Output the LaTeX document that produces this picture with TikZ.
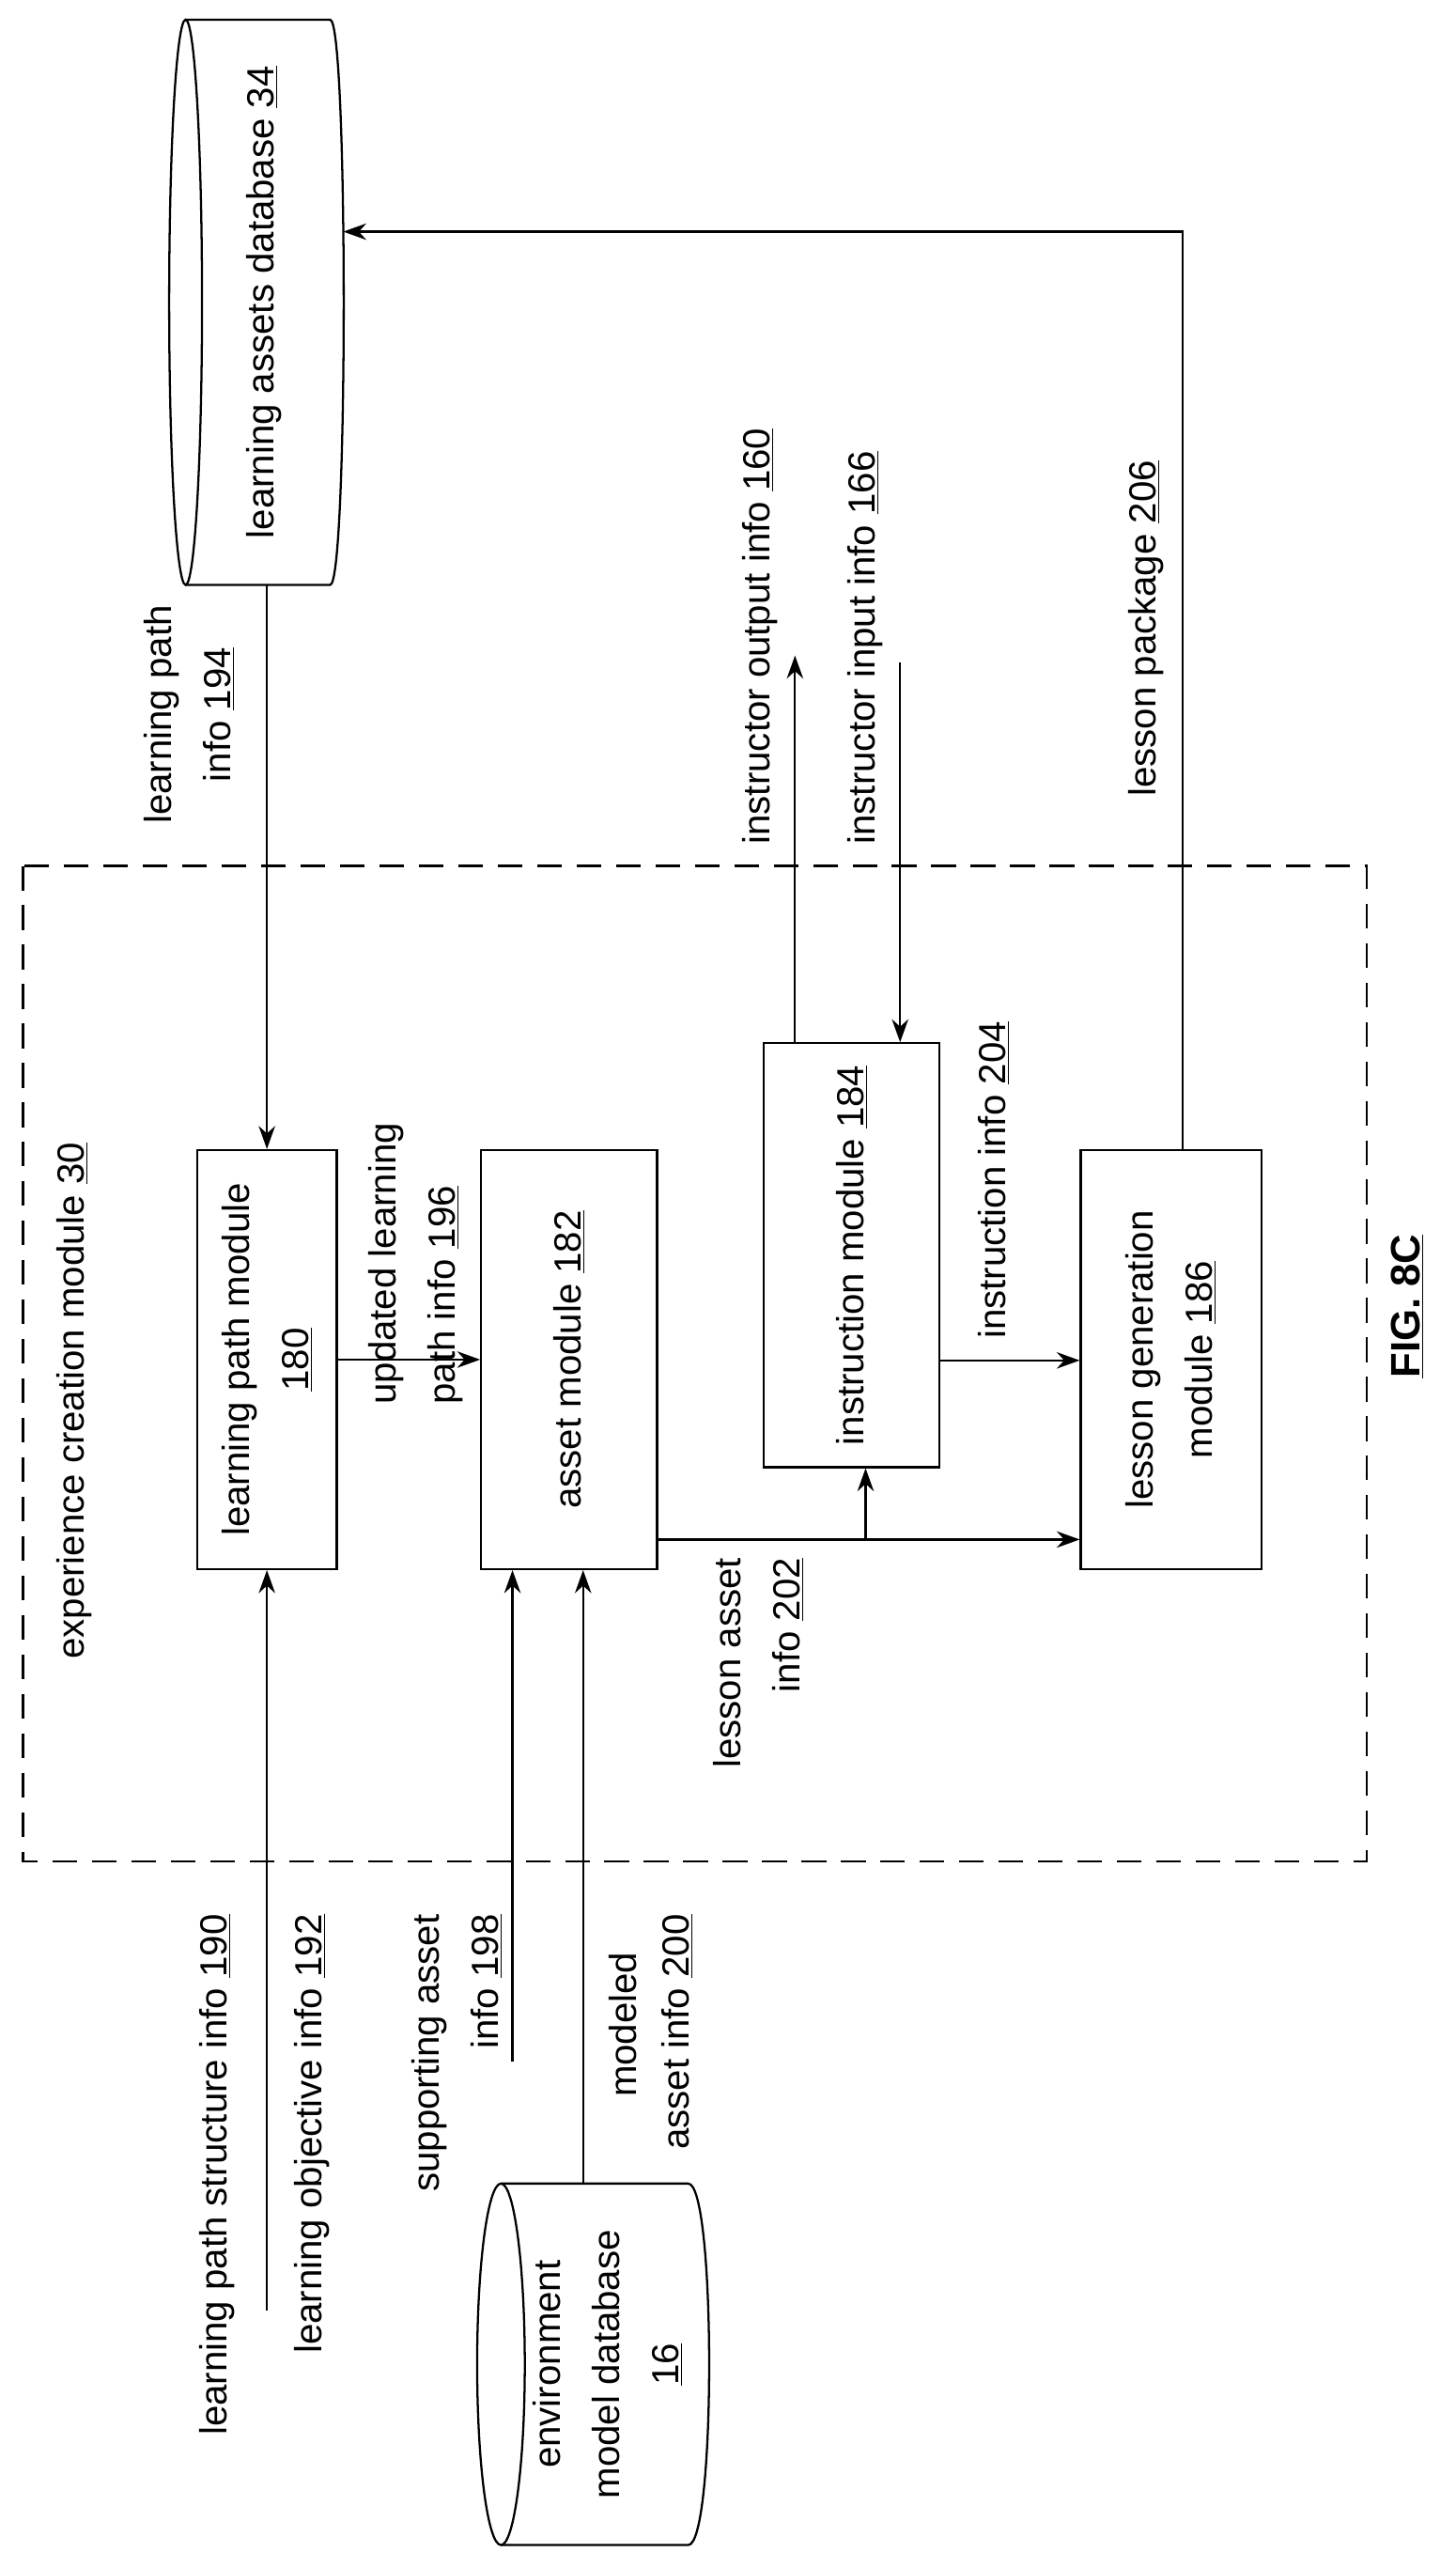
\documentclass[tikz,border=0pt]{standalone}
\usepackage{fontspec}
\setmainfont{Liberation Sans}
\usetikzlibrary{arrows.meta}
\begin{document}
\begin{tikzpicture}[x=1pt,y=-1pt,
  every node/.style={font=\fontsize{23}{36}\selectfont, inner sep=0pt},
  ln/.style={line width=1.3pt},
  arr/.style={ln,-{Stealth[length=14pt,width=10pt]}},
  box/.style={draw,ln,rotate=90,align=center,minimum width=255pt},
  lbl/.style={rotate=90}]
\useasboundingbox (0,0) rectangle (886,1563);
% dashed module
\draw[ln,dash pattern=on 15pt off 9pt] (14,527) rectangle (832,1133);
\node[lbl,anchor=west] (ecm) at (45,1010) {experience creation module \underline{30}};
% boxes
\node[box,minimum height=85pt] (lpm) at (162.5,827.5) {learning path module\\\underline{180}};
\node[box,minimum height=107pt] (asset) at (346.5,827.5) {asset module \underline{182}};
\node[box,minimum width=258pt,minimum height=107pt] (ins) at (518.5,764) {instruction module \underline{184}};
\node[box,minimum height=110pt] (lg) at (713,827.5) {lesson generation\\module \underline{186}};
% learning assets database cylinder
\draw[ln] (113,184) ellipse [x radius=10, y radius=172];
\draw[ln] (113,12) -- (201,12) .. controls (212,12) and (212,356) .. (201,356) -- (113,356);
\node[lbl] (ladb) at (161,184) {learning assets database \underline{34}};
\coordinate (ladbB) at (162.5,356);
\coordinate (ladbR) at (209,141);
% environment model database cylinder
\draw[ln] (305,1439) ellipse [x radius=14.5, y radius=110];
\draw[ln] (305,1329) -- (419,1329) .. controls (436,1329) and (436,1549) .. (419,1549) -- (305,1549);
\node[lbl,align=center] (emdb) at (370,1439) {environment\\model database\\\underline{16}};
\coordinate (emdbT) at (355,1329);
% connectors
\draw[arr] (ladbB) -- (lpm.east);
\node[lbl,align=center] (l194) at (115,435) {learning path\\info \underline{194}};
\coordinate (s190) at (162.5,1406);
\draw[arr] (s190) -- (lpm.west);
\node[lbl,anchor=east] (l190) at (132,1165) {learning path structure info \underline{190}};
\node[lbl,anchor=east] (l192) at (190,1165) {learning objective info \underline{192}};
\coordinate (s198) at (312,1255);
\draw[arr] (s198) -- (s198 |- asset.west);
\node[lbl,anchor=east,align=right] (l198) at (278,1165) {supporting asset\\info \underline{198}};
\draw[arr] (emdbT) -- (emdbT |- asset.west);
\node[lbl,anchor=east] (l200a) at (379,1188) {modeled};
\node[lbl,anchor=east] (l200b) at (412,1165) {asset info \underline{200}};
\draw[arr] (lpm.south) -- (asset.north);
\node[lbl,anchor=west,align=left] (l196) at (253,855) {updated learning\\path info \underline{196}};
\coordinate (la) at (400,937);
\coordinate (br) at (527,937);
\draw[arr] (la) -- (la -| lg.north);
\draw[arr] (br) -- (br |- ins.west);
\node[lbl,anchor=east,align=right] (l202) at (462,948) {lesson asset\\info \underline{202}};
\coordinate (ii) at (572,828);
\draw[arr] (ii) -- (ii -| lg.north);
\node[lbl,anchor=west] (l204) at (605,815) {instruction info \underline{204}};
\coordinate (io) at (484,399);
\draw[arr] (io |- ins.east) -- (io);
\node[lbl,anchor=west] (l160) at (463,514) {instructor output info \underline{160}};
\coordinate (iin) at (548,403);
\draw[arr] (iin) -- (iin |- ins.east);
\node[lbl,anchor=west] (l166) at (527,514) {instructor input info \underline{166}};
\coordinate (lp) at (720,141);
\draw[arr] (lp |- lg.east) -- (lp) -- (ladbR);
\node[lbl,anchor=west] (l206) at (698,485) {lesson package \underline{206}};
\node[lbl,font=\fontsize{25}{30}\selectfont\bfseries] (fig) at (857,795) {\underline{FIG. 8C}};
\end{tikzpicture}
\end{document}
